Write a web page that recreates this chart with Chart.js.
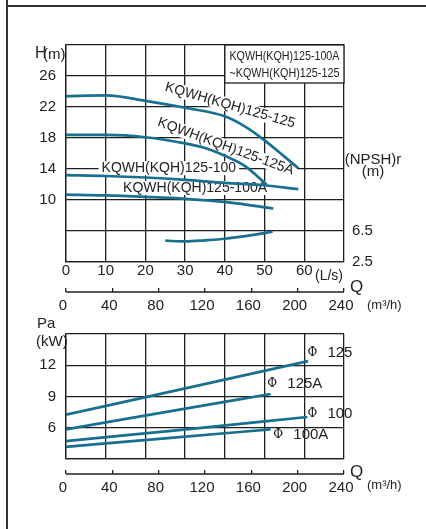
<!DOCTYPE html>
<html>
<head>
<meta charset="utf-8">
<script src="https://cdn.jsdelivr.net/npm/chart.js@4.4.1/dist/chart.umd.min.js"></script>
<style>
  body { margin: 0; background: #fff; }
  #wrap { position: relative; width: 426px; height: 529px; overflow: hidden; }
  #headChart { position: absolute; left: 0; top: 0; }
  #powerChart { position: absolute; left: 0; top: 315px; }
  #frameTop { position: absolute; left: 6px; top: 5px; width: 420px; height: 2px; background: #333; }
  #frameLeft { position: absolute; left: 6px; top: 0; width: 2px; height: 529px; background: #333; }
</style>
</head>
<body>
<div id="wrap">
  <canvas id="headChart" width="426" height="315"></canvas>
  <canvas id="powerChart" width="426" height="214"></canvas>
  <div id="frameTop"></div>
  <div id="frameLeft"></div>
</div>
<script>
// head curves, Q in L/s, H in m
const q125 = [0, 10, 20, 30, 40, 45, 50, 55, 58.5];
const h125 = [23.4, 23.5, 22.8, 21.9, 20.8, 19.5, 17.7, 15.6, 14.1];
const q125A = [0, 10, 20, 30, 35, 40, 45, 50.5];
const h125A = [18.4, 18.4, 18.1, 17.3, 16.7, 15.7, 14.4, 12.0];
const q100 = [0, 10, 20, 30, 40, 50, 58.5];
const h100 = [13.2, 13.1, 12.9, 12.6, 12.2, 11.9, 11.4];
const q100A = [0, 10, 20, 30, 41, 52.2];
const h100A = [10.7, 10.6, 10.4, 10.15, 9.7, 8.9];
const qNpsh = [25, 30, 35, 40, 46, 52];
const npsh = [5.25, 5.15, 5.3, 5.5, 5.9, 6.4];

// shaft power, Q in m3/h, Pa in kW
const qP125 = [0, 104, 209];
const p125 = [7.25, 9.8, 12.4];
const qP125A = [0, 88, 176.6];
const p125A = [5.85, 7.55, 9.24];
const qP100 = [0, 104, 208.4];
const p100 = [4.72, 5.85, 7.03];
const qP100A = [0, 88, 176.6];
const p100A = [4.17, 5.0, 5.85];

// tick labels
const flowTicksLs = [0, 10, 20, 30, 40, 50, 60];
const flowTicksM3h = [0, 40, 80, 120, 160, 200, 240];
const headTicks = [10, 14, 18, 22, 26];
const npshTicks = [2.5, 6.5];
const powerTicks = [6, 9, 12];

const curveLabels = [
    { text: 'KQWH(KQH)125-125', q: 41.3, h: 22.2, angle: 16 },
    { text: 'KQWH(KQH)125-125A', q: 40.2, h: 16.9, angle: 20 },
    { text: 'KQWH(KQH)125-100', q: 25.9, h: 14.1, angle: 0 },
    { text: 'KQWH(KQH)125-100A', q: 32.5, h: 11.55, angle: 0 }
];
const phiLabels = [
    { name: '125', q: 208.4, p: 13.17 },
    { name: '125A', q: 173.8, p: 10.22 },
    { name: '100', q: 208.4, p: 7.37 },
    { name: '100A', q: 179, p: 5.28 }
];

const lineColor = '#17708f';
const gridColor = '#1e1e1e';
const textColor = '#222';
const sans = '"Liberation Sans", Arial, sans-serif';

Chart.defaults.font.family = sans;
Chart.defaults.font.size = 15;
Chart.defaults.color = textColor;

const pts = (xs, ys) => xs.map((v, i) => ({ x: v, y: ys[i] }));

function curve(xs, ys, yAxis, xAxis) {
    return {
        data: pts(xs, ys),
        borderColor: lineColor,
        borderWidth: 2.7,
        pointRadius: 0,
        cubicInterpolationMode: 'monotone',
        fill: false,
        xAxisID: xAxis || 'x',
        yAxisID: yAxis || 'y'
    };
}

function axisLine(ctx, s) {
    ctx.save();
    ctx.strokeStyle = gridColor;
    ctx.lineWidth = 1.3;
    ctx.beginPath();
    ctx.moveTo(s.left, s.top + 4);
    ctx.lineTo(s.right, s.top + 4);
    ctx.stroke();
    ctx.restore();
}

function text(ctx, str, x, y, size, align, font) {
    ctx.font = size + 'px ' + (font || sans);
    ctx.textAlign = align || 'left';
    ctx.textBaseline = 'middle';
    ctx.fillStyle = textColor;
    ctx.fillText(str, x, y);
}

const headDecor = {
    id: 'headDecor',
    beforeDatasetsDraw(chart) {
        const { ctx, chartArea, scales: { x, y } } = chart;
        ctx.save();
        // model range box
        const bx = x.getPixelForValue(40);
        const by = chartArea.top;
        ctx.fillStyle = '#fff';
        ctx.fillRect(bx, by, chartArea.right - bx, 38);
        ctx.strokeStyle = gridColor;
        ctx.lineWidth = 1.3;
        ctx.strokeRect(bx, by, chartArea.right - bx, 38);
        ctx.font = '13px ' + sans;
        ctx.textAlign = 'center';
        ctx.textBaseline = 'middle';
        ctx.fillStyle = textColor;
        const cx = (bx + chartArea.right) / 2;
        ctx.fillText('KQWH(KQH)125-100A', cx, by + 11, 110);
        ctx.fillText('~KQWH(KQH)125-125', cx, by + 28, 110);

        // curve names
        ctx.font = '14px ' + sans;
        curveLabels.forEach(l => {
            const w = ctx.measureText(l.text).width;
            ctx.save();
            ctx.translate(x.getPixelForValue(l.q), y.getPixelForValue(l.h));
            ctx.rotate(l.angle * Math.PI / 180);
            ctx.fillStyle = '#fff';
            ctx.fillRect(-w / 2 - 3, -7, w + 6, 14);
            ctx.fillStyle = textColor;
            ctx.fillText(l.text, 0, 0);
            ctx.restore();
        });
        ctx.restore();
    },
    afterDraw(chart) {
        const { ctx, scales: { x2 } } = chart;
        axisLine(ctx, x2);
        ctx.save();
        text(ctx, 'H', 35, 54, 16);
        text(ctx, '(m)', 43, 55, 15);
        text(ctx, '(NPSH)r', 373, 160, 15, 'center');
        text(ctx, '(m)', 373, 172, 15, 'center');
        text(ctx, '(L/s)', 315, 276, 14);
        text(ctx, 'Q', 350, 287, 17);
        text(ctx, '(m³/h)', 367, 305, 13);
        ctx.restore();
    }
};

const powerDecor = {
    id: 'powerDecor',
    afterDraw(chart) {
        const { ctx, scales: { x2, y } } = chart;
        axisLine(ctx, x2);
        ctx.save();
        phiLabels.forEach(l => {
            const px = x2.getPixelForValue(l.q);
            const py = y.getPixelForValue(l.p);
            text(ctx, 'Φ', px, py, 12, 'left', '"DejaVu Serif", serif');
            text(ctx, l.name, px + 20, py, 15);
        });
        text(ctx, 'Pa', 37, 9, 15);
        text(ctx, '(kW)', 36, 27, 15);
        text(ctx, 'Q', 350, 157, 17);
        text(ctx, '(m³/h)', 367, 170, 13);
        ctx.restore();
    }
};

const gridOpts = { color: gridColor, lineWidth: 1.3, drawTicks: false };
const borderOpts = { color: gridColor, width: 1.3 };
const m3hScale = height => ({
    type: 'linear', position: 'bottom', min: 0, max: 240, weight: 1,
    ticks: {
        stepSize: 40, padding: 5, labelOffset: -3, maxRotation: 0, autoSkip: false,
        callback: v => flowTicksM3h.includes(v) ? v : ''
    },
    grid: { drawOnChartArea: false, drawTicks: true, tickLength: 4, color: gridColor, lineWidth: 1.3 },
    border: { display: false },
    afterFit: s => { s.height = height; }
});

new Chart(document.getElementById('headChart'), {
    type: 'line',
    data: {
        datasets: [
            curve(q125, h125),
            curve(q125A, h125A),
            curve(q100, h100),
            curve(q100A, h100A),
            curve(qNpsh, npsh, 'y2')
        ]
    },
    options: {
        responsive: false,
        animation: false,
        layout: { padding: { top: 45, left: 0, right: 0, bottom: 0 } },
        plugins: { legend: { display: false }, tooltip: { enabled: false } },
        scales: {
            x: {
                type: 'linear', position: 'bottom', min: 0, max: 70, weight: 0,
                ticks: {
                    stepSize: 10, padding: 0, maxRotation: 0, autoSkip: false,
                    callback: v => flowTicksLs.includes(v) ? v : ''
                },
                grid: gridOpts,
                border: borderOpts,
                afterFit: s => { s.height = 26; }
            },
            x2: m3hScale(27),
            y: {
                min: 2, max: 30,
                ticks: { stepSize: 4, padding: 10, callback: v => headTicks.includes(v) ? v : '' },
                grid: gridOpts,
                border: borderOpts,
                afterFit: s => { s.width = 66; }
            },
            y2: {
                position: 'right', min: 2.5, max: 30.5,
                ticks: { stepSize: 4, padding: 8, callback: v => npshTicks.includes(v) ? v : '' },
                grid: { drawOnChartArea: false, drawTicks: false },
                border: { display: false },
                afterFit: s => { s.width = 82; }
            }
        }
    },
    plugins: [headDecor]
});

new Chart(document.getElementById('powerChart'), {
    type: 'line',
    data: {
        datasets: [
            curve(qP125, p125, 'y', 'x2'),
            curve(qP125A, p125A, 'y', 'x2'),
            curve(qP100, p100, 'y', 'x2'),
            curve(qP100A, p100A, 'y', 'x2')
        ]
    },
    options: {
        responsive: false,
        animation: false,
        layout: { padding: { top: 18, left: 0, right: 82, bottom: 0 } },
        plugins: { legend: { display: false }, tooltip: { enabled: false } },
        scales: {
            x: {
                type: 'linear', position: 'bottom', min: 0, max: 70, weight: 0,
                ticks: { stepSize: 10, display: false },
                grid: gridOpts,
                border: borderOpts,
                afterFit: s => { s.height = 11; }
            },
            x2: m3hScale(59),
            y: {
                min: 3, max: 15,
                ticks: { stepSize: 3, padding: 10, callback: v => powerTicks.includes(v) ? v : '' },
                grid: gridOpts,
                border: borderOpts,
                afterFit: s => { s.width = 66; }
            }
        }
    },
    plugins: [powerDecor]
});
</script>
</body>
</html>
